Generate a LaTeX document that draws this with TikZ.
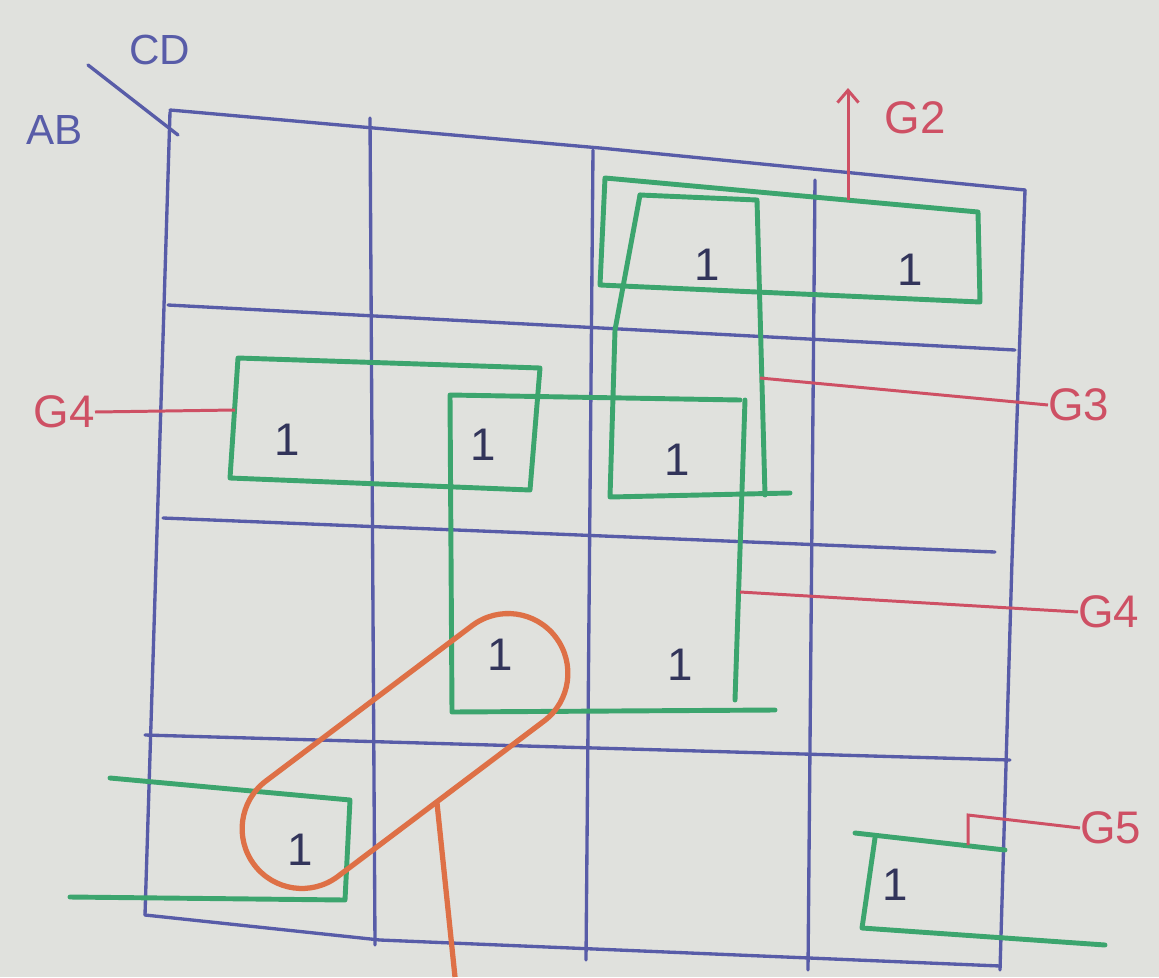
\documentclass[tikz,border=0pt]{standalone}
\usepackage{fontspec}
\setmainfont{Liberation Sans}
\usetikzlibrary{arrows.meta}
\definecolor{paper}{RGB}{224,225,221}
\definecolor{pen}{RGB}{88,92,168}
\definecolor{ink}{RGB}{50,52,90}
\definecolor{grn}{RGB}{60,165,110}
\definecolor{org}{RGB}{222,112,70}
\definecolor{rd}{RGB}{206,80,100}
\tikzset{
  gridline/.style={draw=pen,line width=1.9pt,line cap=round},
  grp/.style={draw=grn,line width=2.8pt,line join=round,line cap=round},
  lbl/.style={text=rd,font=\fontsize{26}{26}\selectfont,inner sep=0pt},
  lblline/.style={draw=rd,line width=1.7pt},
  one/.style={text=ink,font=\fontsize{26}{26}\selectfont,inner sep=0pt},
  var/.style={text=pen,font=\fontsize{24}{24}\selectfont,inner sep=0pt},
}
\begin{document}
\begin{tikzpicture}[x=0.02cm,y=-0.02cm]
\fill[paper] (0,0) rectangle (1159,977);
\useasboundingbox (0,0) rectangle (1159,977);
% grid
\draw[gridline] (170,110) -- (600,148) -- (1025,190);
\draw[gridline] (170,112) -- (158,500) -- (145,915);
\draw[gridline] (1025,190) -- (1012,560) -- (1000,970);
\draw[gridline] (145,915) -- (380,940) -- (1000,966);
\draw[gridline] (370,118) -- (375,945);
\draw[gridline] (593,150) -- (586,960);
\draw[gridline] (815,180) -- (808,970);
\draw[gridline] (168,305) -- (1015,350);
\draw[gridline] (163,518) -- (995,552);
\draw[gridline] (145,735) -- (1010,760);
\draw[gridline] (88,65) -- (178,135);
\node[var] (ab) at (55,130) {AB};
\node[var] (cd) at (160,50) {CD};
% ones
\node[one] (m1) at (287,440) {1};
\node[one] (m2) at (483,445) {1};
\node[one] (m3) at (677,460) {1};
\node[one] (m4) at (707,265) {1};
\node[one] (m5) at (910,270) {1};
\node[one] (m6) at (500,655) {1};
\node[one] (m7) at (680,665) {1};
\node[one] (m8) at (300,850) {1};
\node[one] (m9) at (895,885) {1};
% green groups
\draw[grp] (605,178) -- (978,212) -- (980,302) -- (600,285) -- cycle;
\draw[grp] (640,195) -- (757,200) -- (765,495);
\draw[grp] (640,195) -- (615,330) -- (610,497) -- (790,493);
\draw[grp] (238,358) -- (540,368) -- (530,490) -- (230,478) -- cycle;
\draw[grp] (740,400) -- (450,395) -- (452,712) -- (775,710);
\draw[grp] (745,400) -- (735,700);
\draw[grp] (110,778) -- (350,800) -- (345,900) -- (70,897);
\draw[grp] (855,833) -- (1005,850);
\draw[grp] (875,838) -- (862,928) -- (1105,945);
% orange loop
\node[draw=org,line width=3pt,minimum width=215pt,minimum height=68pt,rounded corners=34pt,rotate=37,inner sep=0pt] (g6) at (405,751) {};
\coordinate (g6end) at (455,977);
\draw[draw=org,line width=3pt] (437,803) -- (g6end);
% red labels
\node[lbl] (g2) at (915,118) {G2};
\coordinate (g2a) at (848,200);
\coordinate (g2b) at (848,88);
\draw[lblline,-{Straight Barb[length=7pt,width=12pt]}] (g2a) -- (g2b);
\node[lbl,anchor=west] (g3) at (1048,405) {G3};
\coordinate (g3a) at (760,378);
\draw[lblline] (g3a) -- (g3.west);
\node[lbl,anchor=west] (g4r) at (1078,612) {G4};
\coordinate (g4a) at (740,592);
\draw[lblline] (g4a) -- (g4r.west);
\node[lbl,anchor=east] (g4l) at (95,412) {G4};
\coordinate (g4b) at (235,410);
\draw[lblline] (g4l.east) -- (g4b);
\node[lbl,anchor=west] (g5) at (1080,828) {G5};
\coordinate (g5a) at (968,845);
\draw[lblline] (g5.west) -- (968,815) -- (g5a);
\end{tikzpicture}
\end{document}
